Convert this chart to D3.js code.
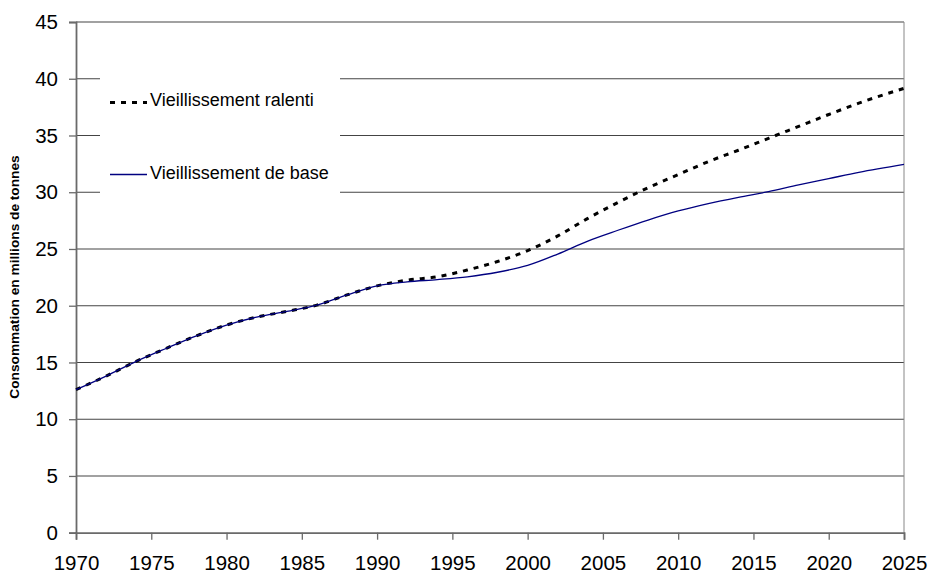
<!DOCTYPE html>
<html><head><meta charset="utf-8">
<script src="https://cdn.jsdelivr.net/npm/d3@7"></script>
<style>body{margin:0;background:#fff}svg{display:block}</style>
</head><body>
<svg id="c" width="929" height="574"></svg>
<script>
const years = [1970,1972,1974,1976,1978,1980,1982,1984,1986,1988,1990,1992,1994,1996,1998,2000,2002,2004,2006,2008,2010,2012,2014,2016,2018,2020,2022,2025];
const baseValues =    [12.6,13.8,15.1,16.25,17.35,18.3,19.0,19.5,20.05,20.95,21.75,22.1,22.3,22.55,22.95,23.55,24.55,25.7,26.65,27.55,28.35,29.0,29.55,30.05,30.65,31.2,31.75,32.45];
const ralentiValues = [12.6,13.8,15.1,16.25,17.35,18.3,19.0,19.5,20.05,20.95,21.75,22.25,22.55,23.15,23.9,24.85,26.15,27.7,29.1,30.4,31.55,32.7,33.7,34.75,35.8,36.85,37.85,39.15];
const xTicks = [1970,1975,1980,1985,1990,1995,2000,2005,2010,2015,2020,2025];
const yTicks = [0,5,10,15,20,25,30,35,40,45];
const seriesNames = ["Vieillissement ralenti","Vieillissement de base"];
const yTitle = "Consommation en millions de tonnes";

const W=929,H=574, m={l:76,r:25,t:22,b:41.3};
const svg=d3.select("#c");
const x=d3.scaleLinear().domain([1970,2025]).range([m.l,W-m.r]);
const y=d3.scaleLinear().domain([0,45]).range([H-m.b,m.t]);
const font="Liberation Sans, Arial, Helvetica, sans-serif";

// gridlines
svg.append("g").selectAll("line").data(yTicks.filter(d=>d>0)).join("line")
  .attr("x1",m.l).attr("x2",W-m.r).attr("y1",d=>y(d)).attr("y2",d=>y(d))
  .attr("stroke","#444").attr("stroke-width",1.1);
// right border
svg.append("line").attr("x1",W-m.r).attr("x2",W-m.r).attr("y1",m.t).attr("y2",H-m.b)
  .attr("stroke","#888").attr("stroke-width",1);

// legend background
svg.append("rect").attr("x",100).attr("y",55).attr("width",240).attr("height",145).attr("fill","#fff");

// axes
const ya=svg.append("g").attr("transform",`translate(${m.l},0)`)
  .call(d3.axisLeft(y).tickValues(yTicks).tickSize(7).tickPadding(11).tickFormat(d3.format("d")));
const xa=svg.append("g").attr("transform",`translate(0,${H-m.b})`)
  .call(d3.axisBottom(x).tickValues(xTicks).tickSize(7).tickPadding(16).tickFormat(d3.format("d")));
[ya,xa].forEach(a=>{
  a.select(".domain").attr("stroke","#6a6a6a").attr("stroke-width",1.8);
  a.selectAll(".tick line").attr("stroke","#6a6a6a").attr("stroke-width",1.3);
  a.selectAll("text").attr("font-family",font).attr("font-size",20.5).attr("fill","#000");
});

// y title
svg.append("text").attr("transform",`translate(19,277) rotate(-90)`)
  .attr("text-anchor","middle").attr("font-family",font).attr("font-weight","bold")
  .attr("font-size",13.7).text(yTitle);

const line=(vals)=>d3.line().x((d,i)=>x(years[i])).y(d=>y(d)).curve(d3.curveMonotoneX)(vals);
svg.append("path").attr("d",line(ralentiValues)).attr("fill","none").attr("stroke","#000")
  .attr("stroke-width",3).attr("stroke-dasharray","5,6");
svg.append("path").attr("d",line(baseValues)).attr("fill","none").attr("stroke","#000080")
  .attr("stroke-width",1.3);

// legend
const lg=svg.append("g");
lg.append("line").attr("x1",110).attr("x2",147).attr("y1",102.5).attr("y2",102.5)
  .attr("stroke","#000").attr("stroke-width",3).attr("stroke-dasharray","5,6");
lg.append("line").attr("x1",110).attr("x2",147).attr("y1",174.5).attr("y2",174.5)
  .attr("stroke","#000080").attr("stroke-width",1.3);
lg.append("text").attr("x",150).attr("y",106).attr("font-family",font).attr("font-size",18).text(seriesNames[0]);
lg.append("text").attr("x",150).attr("y",179).attr("font-family",font).attr("font-size",18).text(seriesNames[1]);
</script>
</body></html>
